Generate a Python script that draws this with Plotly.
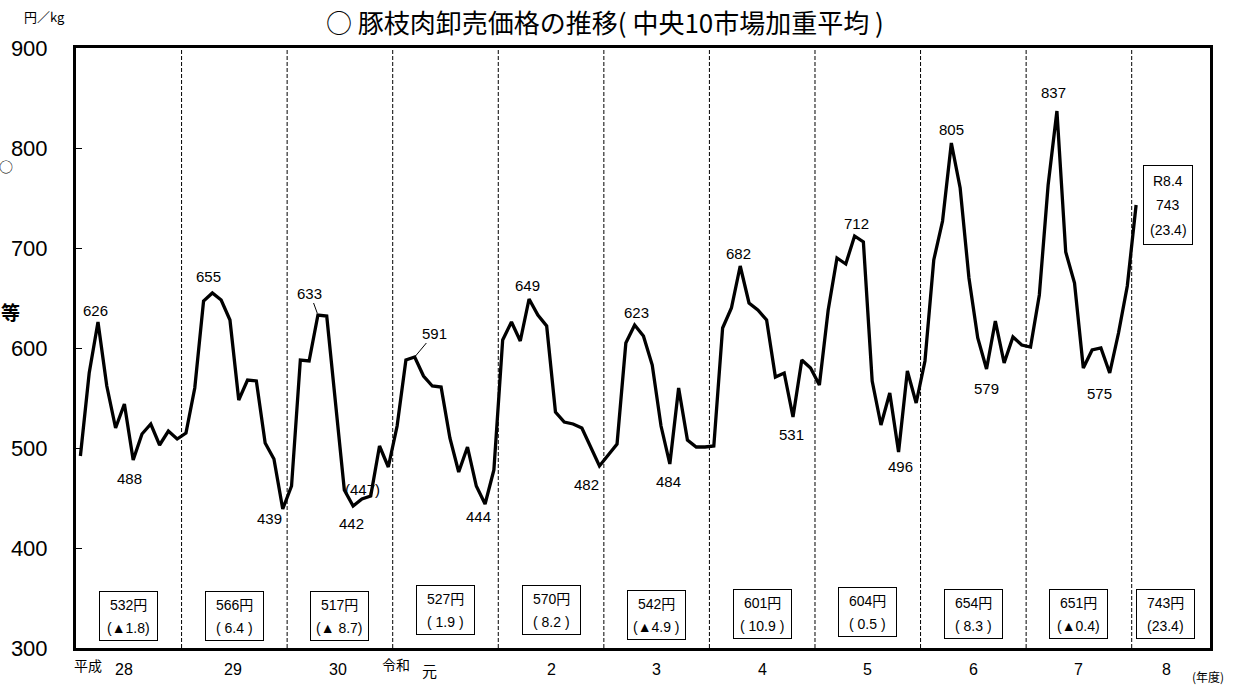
import plotly.graph_objects as go

# ---------------- data ----------------
fiscal_years = ["28", "29", "30", "元", "2", "3", "4", "5", "6", "7", "8"]
prices = [
    492, 575, 626, 562, 520, 544, 488, 514, 524, 503, 517, 509,   # H28
    515, 560, 647, 655, 648, 628, 548, 568, 567, 505, 489, 439,   # H29
    462, 588, 587, 633, 632, 545, 458, 442, 449, 452, 502, 481,   # H30
    522, 588, 591, 572, 562, 561, 510, 476, 501, 462, 444, 478,   # R1
    608, 626, 607, 649, 633, 622, 536, 526, 524, 520, 500, 482,   # R2
    493, 504, 605, 623, 612, 583, 522, 484, 560, 508, 501, 501,   # R3
    502, 620, 640, 682, 645, 638, 628, 571, 575, 531, 588, 580,   # R4
    563, 638, 690, 684, 712, 706, 567, 523, 555, 496, 577, 545,   # R5
    587, 688, 727, 805, 760, 670, 610, 579, 627, 585, 611, 603,   # R6
    601, 653, 763, 837, 696, 665, 580, 598, 600, 575, 615, 662,   # R7
    743,                                                          # R8.4
]
annual_avg = [532, 566, 517, 527, 570, 542, 601, 604, 654, 651, 743]
annual_chg = ["(▲1.8)", "( 6.4 )", "(▲ 8.7)", "( 1.9 )", "( 8.2 )", "(▲4.9 )",
              "( 10.9 )", "( 0.5 )", "( 8.3 )", "(▲0.4)", "(23.4)"]
y_ticks = [300, 400, 500, 600, 700, 800, 900]

# ---------------- layout helpers (positions / styles) ----------------
# labelled peaks / troughs: month index, x shift, y shift (pixels)
peak_labels = [
    (2, -2, 12), (6, -4, -18), (15, -4, 17), (23, -13, -9), (31, -2, -17),
    (46, -7, -12), (51, -2, 14), (59, -13, -18), (63, 2, 13), (67, -1, -17),
    (75, -2, 13), (81, -2, -17), (88, 2, 13), (93, 2, -14), (99, 0, 14),
    (103, 0, -19), (111, -3, 19), (117, -10, -20),
]
box_x = [5.5, 17.5, 29.5, 41.5, 53.5, 65.5, 77.5, 89.5, 101.5, 113.5, 123.3]
box_y = [332, 332, 332, 338, 338, 333, 334, 336, 334, 334, 334]
label_x = [5.0, 17.3, 29.3, 39.7, 53.6, 65.5, 77.5, 89.5, 101.5, 113.5, 123.5]

NUM = "Liberation Sans, Arial, Noto Sans CJK JP, sans-serif"
JP = "Noto Sans CJK JP, sans-serif"
BLACK = "black"

L, R, T, B = 76, 24, 48, 38
W, H = 1234, 686
PW, PH = W - L - R, H - T - B


def px(xp):
    return (xp - L) / PW


def py(yp):
    return (H - B - yp) / PH


months = list(range(len(prices)))

fig = go.Figure()
fig.add_trace(go.Scatter(
    x=months, y=prices, mode="lines",
    line=dict(color=BLACK, width=3.3),
    hoverinfo="skip", showlegend=False,
))

annotations = []
for idx, dx, dy in peak_labels:
    annotations.append(dict(
        x=idx, y=prices[idx], text=str(prices[idx]), showarrow=False,
        xshift=dx, yshift=dy, font=dict(family=NUM, size=15, color=BLACK),
    ))

# leader-line labels
annotations.append(dict(x=27, y=prices[27], text=str(prices[27]), showarrow=True,
                        arrowhead=0, arrowwidth=1, arrowcolor=BLACK, ax=-8, ay=-22,
                        standoff=2, font=dict(family=NUM, size=15, color=BLACK)))
annotations.append(dict(x=38, y=prices[38], text=str(prices[38]), showarrow=True,
                        arrowhead=0, arrowwidth=1, arrowcolor=BLACK, ax=20, ay=-24,
                        standoff=1, font=dict(family=NUM, size=15, color=BLACK)))
annotations.append(dict(x=32.1, y=459, text="(447)", showarrow=False,
                        font=dict(family=NUM, size=15, color=BLACK)))

# latest month box (R8.4)
last = len(prices) - 1
annotations.append(dict(x=last, y=prices[last], text=" ", showarrow=False, xshift=32,
                        width=44, height=74, bordercolor=BLACK, borderwidth=1, borderpad=2))
for txt, dy in (("R8.4", 24), (str(prices[last]), 0), ("(23.4)", -25)):
    annotations.append(dict(x=last, y=prices[last], text=txt, showarrow=False,
                            xshift=32, yshift=dy, font=dict(family=NUM, size=14, color=BLACK)))

# annual average boxes & year labels
for k, (avg, chg) in enumerate(zip(annual_avg, annual_chg)):
    annotations.append(dict(x=box_x[k], y=box_y[k], text=" ", showarrow=False,
                            width=53, height=44, bordercolor=BLACK, borderwidth=1, borderpad=2))
    annotations.append(dict(x=box_x[k], y=box_y[k], text=f"{avg}円", showarrow=False, yshift=11,
                            font=dict(family=NUM, size=14, color=BLACK)))
    annotations.append(dict(x=box_x[k], y=box_y[k], text=chg, showarrow=False, yshift=-12,
                            font=dict(family=NUM, size=14, color=BLACK)))
    annotations.append(dict(x=label_x[k], y=0, yref="paper", yanchor="top",
                            yshift=-11 if k != 3 else -10,
                            text=fiscal_years[k], showarrow=False,
                            font=dict(family=NUM if k != 3 else JP, size=16 if k != 3 else 15,
                                      color=BLACK)))

ctr = dict(xref="paper", yref="paper", xanchor="center", yanchor="middle", showarrow=False)
annotations += [
    dict(x=0.85, y=0, yref="paper", yanchor="top", yshift=-5, text="平成", showarrow=False,
         font=dict(family=JP, size=14, color=BLACK)),
    dict(x=35.9, y=0, yref="paper", yanchor="top", yshift=-4, text="令和", showarrow=False,
         font=dict(family=JP, size=14, color=BLACK)),
    dict(x=px(1208), y=py(676), text="(年度)", font=dict(family=JP, size=12, color=BLACK), **ctr),
    dict(x=px(44), y=py(17), text="円／kg", font=dict(family=JP, size=13, color=BLACK), **ctr),
    dict(x=px(605), y=py(21), text="○ 豚枝肉卸売価格の推移( 中央10市場加重平均 )",
         font=dict(family=JP, size=26, color=BLACK), **ctr),
    dict(x=px(6), y=py(166), text="○", font=dict(family=JP, size=14, color=BLACK), **ctr),
    dict(x=px(10), y=py(312), text="<b>等</b>", font=dict(family=JP, size=19, color=BLACK), **ctr),
]

shapes = []
for k in range(10):
    xb = 11.5 + 12 * k
    shapes.append(dict(type="line", xref="x", yref="paper", x0=xb, x1=xb,
                       y0=0, y1=1, line=dict(color=BLACK, width=1, dash="4px,2px")))

fig.update_layout(
    width=W, height=H,
    margin=dict(l=L, r=R, t=T, b=B, autoexpand=False),
    paper_bgcolor="white", plot_bgcolor="white",
    showlegend=False,
    annotations=annotations, shapes=shapes,
    xaxis=dict(range=[-0.5, 128.4], showgrid=False, zeroline=False, showticklabels=False,
               automargin=False,
               showline=True, mirror=True, linecolor=BLACK, linewidth=3, ticks=""),
    yaxis=dict(range=[300, 900], tickvals=y_ticks, showgrid=False, zeroline=False,
               automargin=False,
               showline=True, mirror=True, linecolor=BLACK, linewidth=3,
               ticks="inside", ticklen=6, tickwidth=1, tickcolor=BLACK,
               ticklabelstandoff=21,
               tickfont=dict(family=NUM, size=22, color=BLACK)),
)

fig.write_html("out.html", config={"displayModeBar": False},
               post_script="document.body.style.margin='0';")
